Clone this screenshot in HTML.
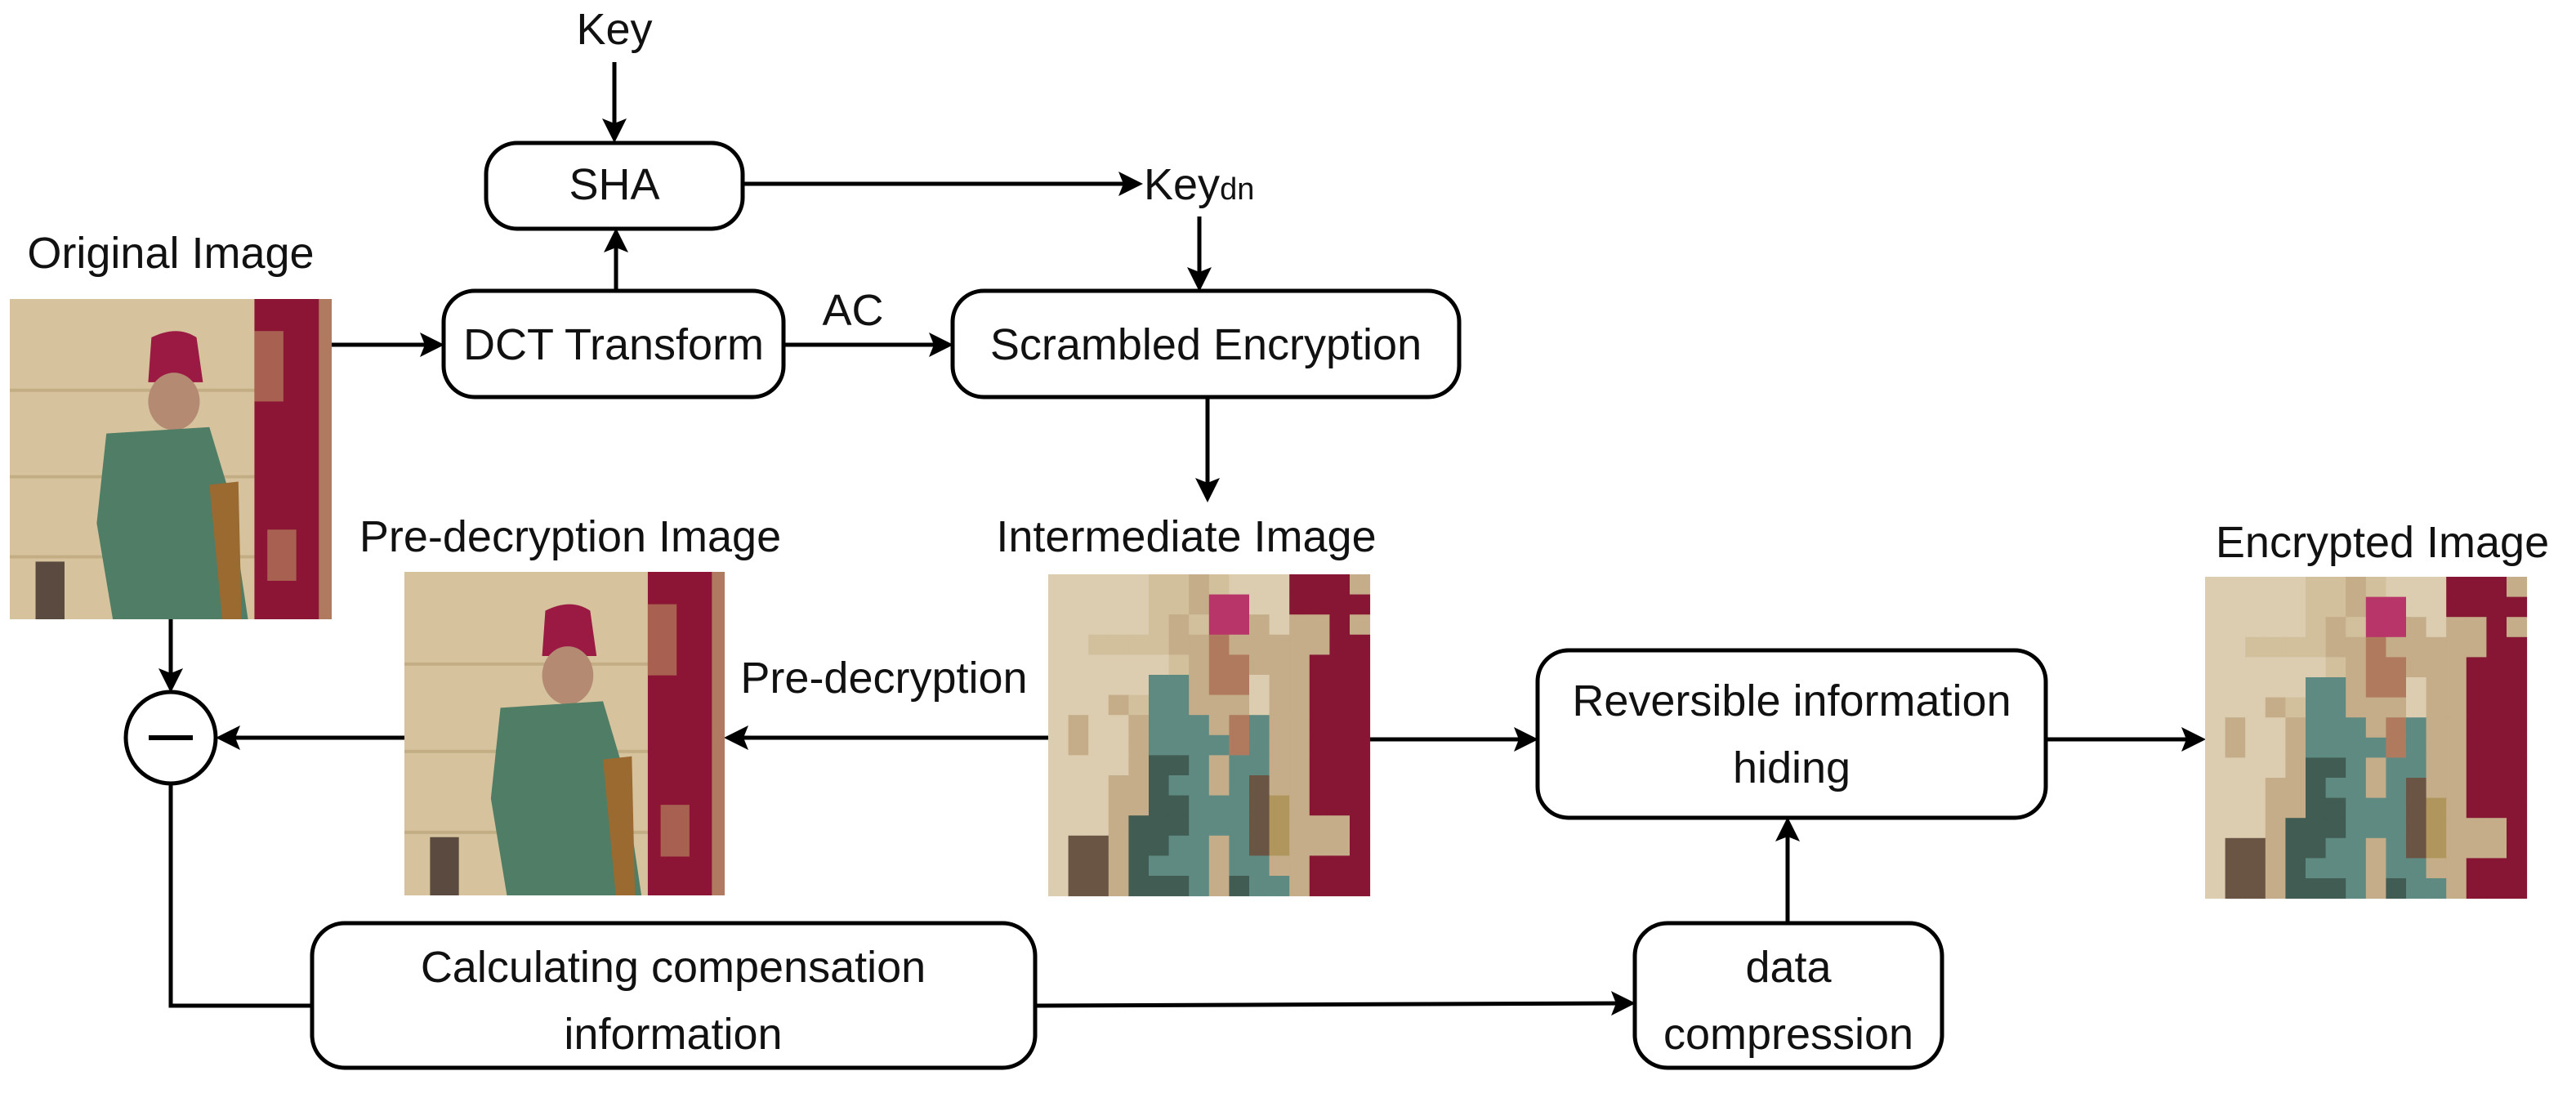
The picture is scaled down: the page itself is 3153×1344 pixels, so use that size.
<!DOCTYPE html>
<html><head><meta charset="utf-8"><style>
html,body{margin:0;padding:0;background:#fff}
svg{display:block}
text{font-family:"Liberation Sans Narrow","Liberation Sans",sans-serif;fill:#111}
</style></head><body>
<svg width="3153" height="1344" viewBox="0 0 3153 1344" xmlns="http://www.w3.org/2000/svg">
<defs>
<marker id="ah" markerWidth="6" markerHeight="6" refX="5" refY="3" orient="auto" markerUnits="strokeWidth">
<path d="M0,0 L6,3 L0,6 L1.2,3 Z" fill="#000"/></marker>
<symbol id="photo" viewBox="0 0 100 100" preserveAspectRatio="none">
<rect width="100" height="100" fill="#d6c39d"/>
<rect x="0" y="28" width="100" height="1" fill="#c2ad85"/>
<rect x="0" y="55" width="100" height="1" fill="#c2ad85"/>
<rect x="0" y="80" width="100" height="1" fill="#c2ad85"/>
<rect x="76" y="0" width="24" height="100" fill="#8c1434"/>
<rect x="76" y="10" width="9" height="22" fill="#a86050"/>
<rect x="80" y="72" width="9" height="16" fill="#a86050"/>
<rect x="96" y="0" width="4" height="100" fill="#b07a60"/>
<path d="M44,12 Q52,8 58,12 L60,26 L43,26 Z" fill="#9a1a44"/>
<ellipse cx="51" cy="32" rx="8" ry="9" fill="#b48a72"/>
<path d="M30,42 L62,40 L68,60 L74,100 L32,100 L27,70 Z" fill="#4f7d66"/>
<path d="M62,58 L71,57 L72,100 L66,100 Z" fill="#9a6a30"/>
<rect x="8" y="82" width="9" height="18" fill="#5a4a40"/>
</symbol>
</defs>

<g fill="none" stroke="#000" stroke-width="5">
<rect x="595" y="175" width="314" height="105" rx="38"/>
<rect x="543" y="356" width="416" height="130" rx="38"/>
<rect x="1166" y="356" width="620" height="130" rx="38"/>
<rect x="1882" y="796" width="622" height="205" rx="38"/>
<rect x="382" y="1130" width="885" height="177" rx="40"/>
<rect x="2001" y="1130" width="376" height="177" rx="40"/>
<ellipse cx="209" cy="903" rx="55" ry="56"/>
</g>
<line x1="182" y1="903" x2="236" y2="903" stroke="#000" stroke-width="6"/>

<g stroke="#000" stroke-width="5" fill="none" marker-end="url(#ah)">
<line x1="752" y1="76" x2="752" y2="170"/>
<line x1="909" y1="225" x2="1394" y2="225"/>
<line x1="1468" y1="265" x2="1468" y2="352"/>
<line x1="754" y1="356" x2="754" y2="284"/>
<line x1="406" y1="422" x2="539" y2="422"/>
<line x1="959" y1="422" x2="1162" y2="422"/>
<line x1="1478" y1="487" x2="1478" y2="610"/>
<line x1="1283" y1="903" x2="891" y2="903"/>
<line x1="495" y1="903" x2="269" y2="903"/>
<line x1="209" y1="758" x2="209" y2="843"/>
<line x1="1677" y1="905" x2="1878" y2="905"/>
<line x1="2504" y1="905" x2="2695" y2="905"/>
<line x1="1267" y1="1231" x2="1997" y2="1228"/>
<line x1="2188" y1="1130" x2="2188" y2="1005"/>
</g>
<polyline points="209,959 209,1231 382,1231" stroke="#000" stroke-width="5" fill="none"/>

<use href="#photo" x="12" y="366" width="394" height="392"/>
<use href="#photo" x="495" y="700" width="392" height="396"/>
<g id="pixA" transform="translate(1283,703) scale(24.6,24.6)"></g>
<g id="pixB" transform="translate(2699,706) scale(24.6,24.6)"></g>

<g font-size="54" text-anchor="middle">
<text x="752" y="54">Key</text>
<text x="752" y="244">SHA</text>
<text x="1400" y="244" text-anchor="start">Key<tspan font-size="38">dn</tspan></text>
<text x="209" y="328">Original Image</text>
<text x="751" y="440">DCT Transform</text>
<text x="1044" y="398">AC</text>
<text x="1476" y="440">Scrambled Encryption</text>
<text x="698" y="675">Pre-decryption Image</text>
<text x="1452" y="675">Intermediate Image</text>
<text x="2916" y="682">Encrypted Image</text>
<text x="1082" y="848">Pre-decryption</text>
<text x="2193" y="876">Reversible information</text>
<text x="2193" y="958">hiding</text>
<text x="824" y="1202">Calculating compensation</text>
<text x="824" y="1284">information</text>
<text x="2189" y="1202">data</text>
<text x="2189" y="1284">compression</text>
</g>
</svg>
<script>
var rows=["LLLLLBBTBLLLRRRT","LLLLLBBTPPLLRRRR","LLLLLBTBPPTLTTRT","LLBBBBTTOTTTTTRR","LLLLLLBTOOTTTRRR","LLLLLGGTOOLTTRRR","LLLTBGGTTTLTTRRR","LTLLTGGGTOGTTRRR","LTLLTGGGGOGTTRRR","LLLLTDDGTGGTTRRR","LLLTTDGGTGNTTRRR","LLLTTDDGGGNYTRRR","LLLTDDDGGGNYTTTR","LNNTDDGGTGNYTTTR","LNNTDGGGTGGTTRRR","LNNTDDDGTDGGTRRR"];
var c={L:"#dccdb0",B:"#d2bf9c",T:"#c4ad88",R:"#861634",P:"#b8356a",O:"#b07a5e",G:"#5f8a82",D:"#415c52",N:"#6a5444",Y:"#b0965c"};
["pixA","pixB"].forEach(function(id){var g=document.getElementById(id),s="";
for(var r=0;r<16;r++)for(var k=0;k<16;k++)s+='<rect x="'+k+'" y="'+r+'" width="1.02" height="1.02" fill="'+c[rows[r][k]]+'"/>';
g.innerHTML=s;});
</script>
</body></html>
